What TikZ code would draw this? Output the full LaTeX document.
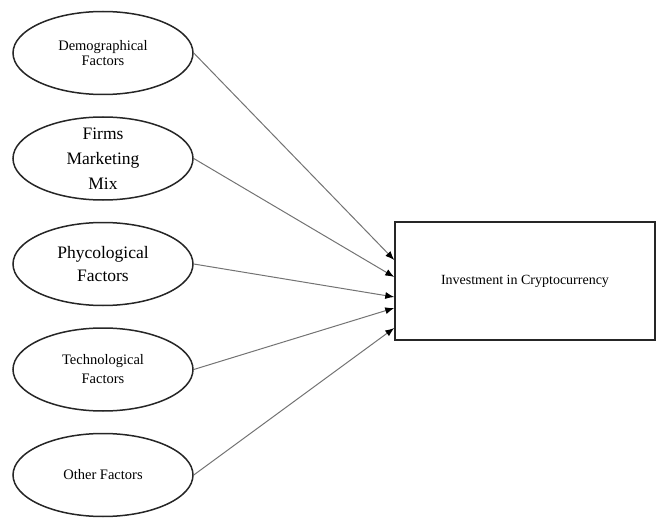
\documentclass[tikz,border=0pt]{standalone}
\usepackage{fontspec}
\setmainfont{Liberation Serif}
\usetikzlibrary{arrows.meta, positioning, shapes}
\tikzset{
    node distance = 21pt,
    factorNode/.style = {ellipse, draw=black!85, line width=1.5pt, minimum width=180pt, minimum height=83pt, inner sep=0pt, align=center, font=\fontsize{14.5}{15}\selectfont},
    bigFactorNode/.style = {factorNode, inner ysep=-5pt, font=\fontsize{17.5}{25}\selectfont},
    targetNode/.style = {rectangle, draw=black!85, line width=1.5pt, minimum width=260pt, minimum height=118pt, font=\fontsize{14}{16}\selectfont},
    factorPath/.style = {-{Latex[length=9pt, width=7pt, color=black]}, draw=black!55, line width=1pt}
}

\begin{document}
\begin{tikzpicture}
            \useasboundingbox (0pt,0pt) rectangle (657pt,-519pt);
            \node(demo)[factorNode] at (103pt,-53pt){Demographical\\Factors};
            \node(firms)[bigFactorNode, below=of demo]{Firms\\Marketing\\Mix};
            \node(phyco)[bigFactorNode, below=of firms, font=\fontsize{17.5}{23}\selectfont]{Phycological\\Factors};
            \node(techno)[factorNode, below=of phyco, font=\fontsize{14.5}{19}\selectfont]{Technological\\Factors};
            \node(other)[factorNode, below=of techno]{Other Factors};
            \node(invest)[targetNode] at (525pt,-281pt){Investment in Cryptocurrency};
            \coordinate(inA) at ([yshift=21pt]invest.west);
            \coordinate(inB) at ([yshift=4pt]invest.west);
            \coordinate(inC) at ([yshift=-16pt]invest.west);
            \coordinate(inD) at ([yshift=-27pt]invest.west);
            \coordinate(inE) at ([yshift=-47pt]invest.west);
            \path[factorPath] (demo.east) to (inA);
            \path[factorPath] (firms.east) to (inB);
            \path[factorPath] (phyco.east) to (inC);
            \path[factorPath] (techno.east) to (inD);
            \path[factorPath] (other.east) to (inE);
        \end{tikzpicture}
\end{document}
